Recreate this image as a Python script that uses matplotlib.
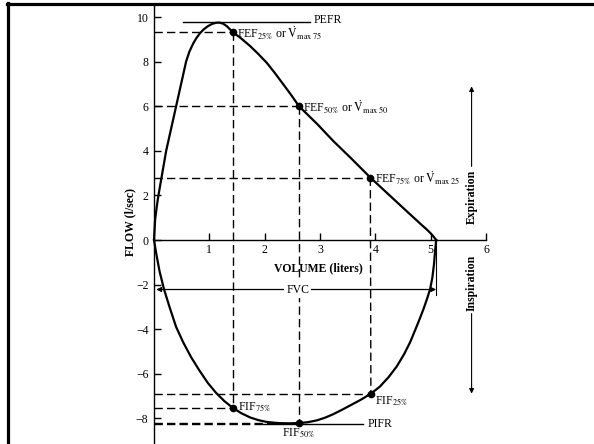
import matplotlib
matplotlib.use("Agg")
import matplotlib.pyplot as plt
from matplotlib.lines import Line2D

plt.rcParams['font.family'] = ['Liberation Serif', 'DejaVu Serif']
plt.rcParams['mathtext.fontset'] = 'stix'

# ---- data (volume in liters, flow in l/sec) ----
exp_vol = [0.0, 0.02, 0.05, 0.08, 0.15, 0.22, 0.31, 0.40, 0.49, 0.58, 0.64, 0.71, 0.77,
           0.83, 0.90, 0.97, 1.05, 1.12, 1.18, 1.25, 1.32, 1.42, 1.58, 1.74, 1.89, 2.04,
           2.19, 2.34, 2.48, 2.62, 2.95, 3.24, 3.58, 3.91, 4.25, 4.55, 4.84, 4.93, 5.00,
           5.05, 5.10]
exp_flow = [0.0, 0.9, 1.5, 2.0, 3.0, 4.0, 5.0, 6.0, 7.0, 8.0, 8.45, 8.82, 9.07,
            9.27, 9.45, 9.58, 9.69, 9.74, 9.75, 9.70, 9.58, 9.33, 9.03, 8.69, 8.33, 7.94,
            7.47, 6.97, 6.50, 6.0, 5.2, 4.44, 3.62, 2.80, 2.02, 1.33, 0.67, 0.47, 0.30,
            0.16, 0.0]

insp_vol = [0.0, 0.04, 0.10, 0.18, 0.28, 0.40, 0.53, 0.67, 0.82, 0.97, 1.12, 1.27, 1.42,
            1.58, 1.74, 1.89, 2.04, 2.20, 2.34, 2.48, 2.62, 2.78, 2.94, 3.09, 3.24, 3.40,
            3.56, 3.74, 3.92, 4.08, 4.24, 4.39, 4.52, 4.63, 4.72, 4.80, 4.87, 4.94, 4.99,
            5.03, 5.06, 5.08, 5.10]
insp_flow = [0.0, -0.6, -1.4, -2.2, -3.0, -3.9, -4.6, -5.25, -5.85, -6.4, -6.85, -7.22, -7.52,
             -7.77, -7.96, -8.08, -8.16, -8.20, -8.22, -8.22, -8.21, -8.17, -8.09, -7.97, -7.81, -7.61,
             -7.40, -7.16, -6.89, -6.58, -6.15, -5.66, -5.12, -4.58, -4.04, -3.55, -3.10, -2.60, -2.20,
             -1.70, -1.10, -0.50, 0.0]

pefr = 9.77
pefr_span = [0.52, 2.82]
pifr = -8.24
pifr_span = [1.97, 3.78]

fef_vol = [1.42, 2.62, 3.91]
fef_flow = [9.33, 6.0, 2.80]
fef_pct = ['25', '50', '75']
vmax_pct = ['75', '50', '25']

fif_vol = [1.42, 2.62, 3.92]
fif_flow = [-7.52, -8.21, -6.89]

fvc = 5.10
fvc_y = -2.22

x_ticks = [1, 2, 3, 4, 5, 6]
y_ticks = [10, 8, 6, 4, 2, 0, -2, -4, -6, -8]

# ---- figure ----
W, H = 594, 444
fig = plt.figure(figsize=(W / 100, H / 100), dpi=100)
ax = fig.add_axes([0, 0, 1, 1])
x0_px, y0_px = 154, 240
sx, sy = 55.33, 22.3
ax.set_xlim(-x0_px / sx, (W - x0_px) / sx)
ax.set_ylim(-(H - y0_px) / sy, y0_px / sy)

for s in ['top', 'right']:
    ax.spines[s].set_visible(False)
ax.spines['left'].set_position(('data', 0))
ax.spines['bottom'].set_position(('data', 0))
ax.spines['left'].set_bounds(-(H - y0_px) / sy, (y0_px - 4) / sy)
ax.spines['bottom'].set_bounds(0, 6)
ax.spines['left'].set_linewidth(1.0)
ax.spines['bottom'].set_linewidth(1.0)

ax.set_xticks(x_ticks)
ax.set_yticks(y_ticks)
ax.set_yticklabels([str(v).replace('-', '\u2212') for v in y_ticks])
ax.tick_params(axis='x', direction='in', length=5, width=1, labelsize=8.5, pad=3)
ax.tick_params(axis='y', direction='in', length=5, width=1, labelsize=8.5, pad=4)

dash = dict(color='black', lw=1.0, ls=(0, (6, 3)))

# dashed guide lines
for v, f in zip(fef_vol, fef_flow):
    ax.plot([0, v], [f, f], **dash)
for v, f in zip(fif_vol, fif_flow):
    ax.plot([0, v], [f, f], **dash)
for i in range(3):
    ax.plot([fef_vol[i], fif_vol[i]], [fef_flow[i], fif_flow[i]], **dash)
ax.plot([0, pifr_span[0]], [pifr, pifr], **dash)

# PEFR / PIFR lines
ax.plot(pefr_span, [pefr, pefr], color='black', lw=1.0)
ax.plot(pifr_span, [pifr, pifr], color='black', lw=1.0)

# loop
ax.plot(exp_vol, exp_flow, color='black', lw=1.6, solid_joinstyle='round')
ax.plot(insp_vol, insp_flow, color='black', lw=1.6, solid_joinstyle='round')

# points
ax.plot(fef_vol, fef_flow, 'o', color='black', ms=4.5)
ax.plot(fif_vol, fif_flow, 'o', color='black', ms=4.5)

fs = 8.5
ax.text(pefr_span[1] + 0.06, pefr + 0.08, 'PEFR', fontsize=fs, va='center', ha='left')
ax.text(pifr_span[1] + 0.08, pifr, 'PIFR', fontsize=fs, va='center', ha='left')
for v, f, p, q in zip(fef_vol, fef_flow, fef_pct, vmax_pct):
    ax.text(v + 0.08, f - 0.05, r'FEF$_{%s\%%}$ or $\dot{\mathrm{V}}_{\mathrm{max}\ %s}$' % (p, q),
            fontsize=fs, va='center', ha='left')
ax.text(fif_vol[0] + 0.1, fif_flow[0], r'FIF$_{75\%}$', fontsize=fs, va='center', ha='left')
ax.text(fif_vol[2] + 0.08, fif_flow[2] - 0.35, r'FIF$_{25\%}$', fontsize=fs, va='center', ha='left')
ax.text(fif_vol[1], fif_flow[1] - 0.45, r'FIF$_{50\%}$', fontsize=fs, va='center', ha='center')

# FVC
ax.plot([fvc, fvc], [0, fvc_y - 0.25], color='black', lw=0.8)
ax.annotate('', xy=(0.04, fvc_y), xytext=(fvc, fvc_y),
            arrowprops=dict(arrowstyle='<|-|>', color='black', lw=0.9,
                            mutation_scale=7, shrinkA=0, shrinkB=0))
ax.text(2.6, fvc_y, 'FVC', fontsize=fs, ha='center', va='center',
        bbox=dict(facecolor='white', edgecolor='none', pad=1.5))

# axis labels
ax.text(-0.42, 0.8, 'FLOW (l/sec)', rotation=90, fontsize=fs, fontweight='bold',
        ha='center', va='center')
ax.text(2.97, -1.26, 'VOLUME (liters)', fontsize=fs, fontweight='bold',
        ha='center', va='center')

# expiration / inspiration
xe = 5.74
ax.text(xe, 1.93, 'Expiration', rotation=90, fontsize=fs, fontweight='bold',
        ha='center', va='center')
ax.text(xe, -1.93, 'Inspiration', rotation=90, fontsize=fs, fontweight='bold',
        ha='center', va='center')
ax.annotate('', xy=(xe, 6.89), xytext=(xe, 3.3),
            arrowprops=dict(arrowstyle='-|>', color='black', lw=0.8,
                            mutation_scale=7, shrinkA=0, shrinkB=0))
ax.annotate('', xy=(xe, -6.89), xytext=(xe, -3.3),
            arrowprops=dict(arrowstyle='-|>', color='black', lw=0.8,
                            mutation_scale=7, shrinkA=0, shrinkB=0))

# frame border (top and left)
fig.add_artist(Line2D([7 / W, 1], [1 - 4 / H, 1 - 4 / H], color='black', lw=2.3))
fig.add_artist(Line2D([8 / W, 8 / W], [0, 1 - 3 / H], color='black', lw=2.3))

fig.savefig('out.png', dpi=100, facecolor='white')
